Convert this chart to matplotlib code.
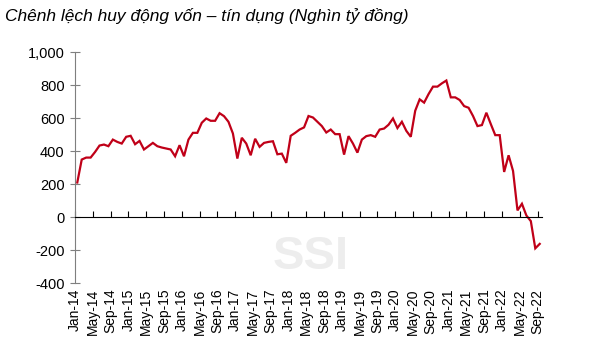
import matplotlib.pyplot as plt
from matplotlib.ticker import FuncFormatter

# Chenh lech huy dong von - tin dung, monthly Jan-14 .. Sep-22 (nghin ty dong)
gia_tri = [
    210, 349, 361, 361, 395, 434, 440, 430, 470, 456, 446, 487,   # 2014
    493, 442, 462, 410, 430, 450, 430, 422, 416, 410, 369, 436,   # 2015
    369, 470, 511, 511, 572, 598, 584, 584, 630, 612, 578, 507,   # 2016
    355, 481, 446, 375, 475, 426, 450, 456, 460, 381, 385, 329,   # 2017
    493, 511, 531, 544, 613, 604, 578, 552, 513, 531, 503, 503,   # 2018
    379, 491, 446, 391, 470, 491, 497, 487, 531, 537, 560, 598,   # 2019
    540, 578, 523, 487, 645, 714, 694, 746, 791, 791, 811, 828,   # 2020
    726, 726, 710, 673, 663, 613, 552, 558, 633, 564, 497, 497,   # 2021
    274, 375, 280, 41, 81, 10, -24, -189, -162,                   # 2022
]
thang = ['Jan', 'May', 'Sep']
nhan_truc_x = [f'{m}-{y:02d}' for y in range(14, 23) for m in thang]

plt.rcParams['font.family'] = ['Liberation Sans Narrow', 'Liberation Sans', 'DejaVu Sans']

fig = plt.figure(figsize=(5.91, 3.5), dpi=100)
ax = fig.add_axes([0.127, 0.191, 0.790, 0.66])

x = list(range(len(gia_tri)))
ax.plot(x, gia_tri, color='#c00018', lw=1.6, solid_joinstyle='miter')

ax.set_xlim(-0.5, len(gia_tri) - 0.5)
ax.set_ylim(-400, 1000)
ax.set_yticks(range(-400, 1001, 200))
ax.yaxis.set_major_formatter(FuncFormatter(lambda v, p: f'{int(v):,}'))
ax.tick_params(axis='y', direction='inout', length=7, color='#7f7f7f',
               labelsize=10.5, pad=4)

for s in ['top', 'right']:
    ax.spines[s].set_visible(False)
ax.spines['left'].set_color('#7f7f7f')
ax.spines['bottom'].set_position(('data', 0))
ax.spines['bottom'].set_color('black')

vi_tri = [4 * i - 0.5 for i in range(len(nhan_truc_x))]
ax.set_xticks(vi_tri)
ax.tick_params(axis='x', direction='in', length=4, labelbottom=False,
               color='black')

sec = ax.secondary_xaxis('bottom')
sec.set_xticks(vi_tri, nhan_truc_x, rotation=90)
sec.tick_params(length=0, labelsize=10, pad=4)
sec.spines['bottom'].set_visible(False)

ax.text(0.505, 0.115, 'SSI', transform=ax.transAxes, fontsize=34,
        fontweight='bold', color='#ededed', ha='center', va='center',
        zorder=0)

fig.text(0.008, 0.955, 'Chênh lệch huy động vốn – tín dụng (Nghìn tỷ đồng)',
         fontsize=12.5, style='italic', ha='left', va='center')

fig.savefig('out.png', dpi=100)
